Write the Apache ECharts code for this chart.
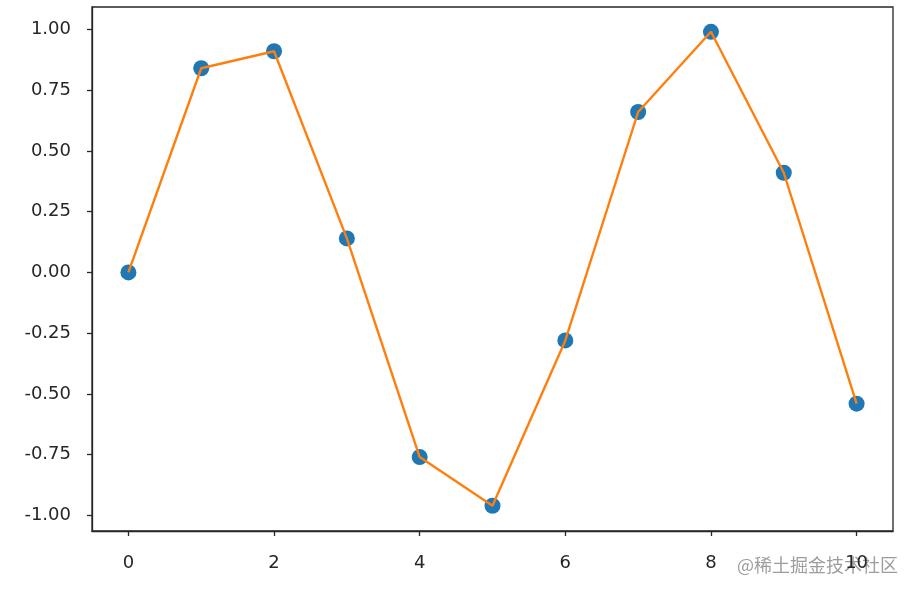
<!DOCTYPE html>
<html>
<head>
<meta charset="utf-8">
<script src="https://cdn.jsdelivr.net/npm/echarts@6/dist/echarts.min.js"></script>
<style>
  html, body { margin: 0; padding: 0; background: #fff; }
  #chart { width: 918px; height: 596px; }
</style>
</head>
<body>
<div id="chart"></div>
<script>
const xValues = [0, 1, 2, 3, 4, 5, 6, 7, 8, 9, 10];
const yValues = [0.00, 0.84, 0.91, 0.14, -0.76, -0.96, -0.28, 0.66, 0.99, 0.41, -0.54];
const xTicks = [0, 2, 4, 6, 8, 10];
const yTicks = [-1.00, -0.75, -0.50, -0.25, 0.00, 0.25, 0.50, 0.75, 1.00];

function dibujar() {
  const chart = echarts.init(document.getElementById("chart"));
  const points = xValues.map((x, i) => [x, yValues[i]]);
  const labelStyle = { color: "#262626", fontSize: 18, fontFamily: "DejaVu Sans" };

  const option = {
    animation: false,
    grid: {
      left: 92, right: 25, top: 7, bottom: 65,
      show: true, borderColor: "#262626", borderWidth: 1.3
    },
    xAxis: {
      type: "value",
      min: -0.5,
      max: 10.5,
      splitLine: { show: false },
      axisLine: { show: true, onZero: false, lineStyle: { color: "#262626", width: 1.3 } },
      axisTick: { show: true, inside: false, length: 5, customValues: xTicks, lineStyle: { color: "#262626", width: 1.3 } },
      axisLabel: Object.assign({ margin: 23, customValues: xTicks, formatter: v => String(v) }, labelStyle)
    },
    yAxis: {
      type: "value",
      min: -1.064,
      max: 1.092,
      splitLine: { show: false },
      axisLine: { show: true, onZero: false, lineStyle: { color: "#262626", width: 1.3 } },
      axisTick: { show: true, inside: false, length: 5, customValues: yTicks, lineStyle: { color: "#262626", width: 1.3 } },
      axisLabel: Object.assign({ margin: 21, customValues: yTicks, formatter: v => v.toFixed(2) }, labelStyle)
    },
    series: [
      {
        type: "scatter",
        data: points,
        symbolSize: 16,
        itemStyle: { color: "#1f77b4", opacity: 1 },
        z: 2
      },
      {
        type: "line",
        data: points,
        showSymbol: false,
        lineStyle: { color: "#ff7f0e", width: 2.4 },
        z: 3
      }
    ],
    graphic: [{
      type: "text",
      right: 20,
      top: 556,
      style: {
        text: "@稀土掘金技术社区",
        fill: "rgba(140,140,140,0.85)",
        fontSize: 18,
        fontFamily: "Noto Sans CJK SC"
      }
    }]
  };

  chart.setOption(option);
  window.addEventListener("resize", () => chart.resize());
}

document.addEventListener("DOMContentLoaded", dibujar);
</script>
</body>
</html>
